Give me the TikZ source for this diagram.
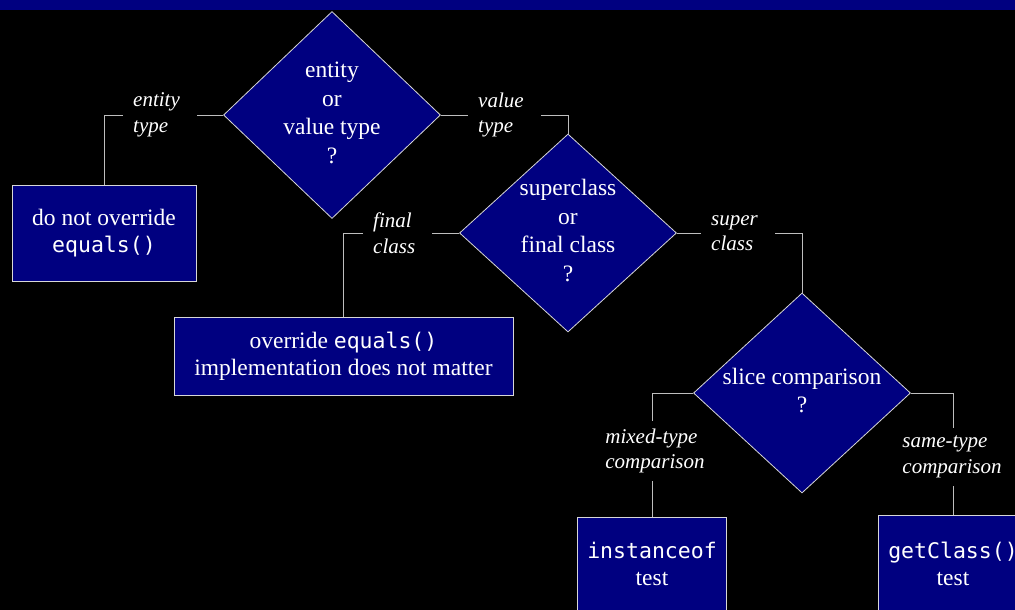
\documentclass[tikz,border=0pt]{standalone}
\usepackage{fontspec}
\setmainfont{Liberation Serif}
\setmonofont{DejaVu Sans Mono}
\usetikzlibrary{shapes.geometric,calc}
\definecolor{navy}{RGB}{0,0,128}
\definecolor{linegray}{RGB}{190,190,190}
\definecolor{edgegray}{RGB}{215,215,215}
\newcommand\mytab[1]{\begin{tabular}{@{}c@{}}#1\end{tabular}}
\newcommand\dtext[1]{\makebox[0pt]{\mytab{#1}}}
\newcommand\mainfs{\fontsize{23.5}{28.5}\selectfont}
\newcommand\boxfs{\fontsize{23.5}{27}\selectfont}
\newcommand\lblfs{\fontsize{21}{25.5}\selectfont\itshape}
\newcommand\code[1]{{\fontsize{21.5}{27}\selectfont\ttfamily #1}}
\begin{document}
\begin{tikzpicture}[x=1pt,y=-1pt,
  decision/.style={diamond, draw=edgegray, fill=navy, text=white, inner sep=0pt, line width=0.8pt, font=\mainfs},
  outcome/.style={rectangle, draw=edgegray, fill=navy, text=white, line width=0.8pt, font=\boxfs, align=center, inner sep=0pt},
  lbl/.style={text=white, font=\lblfs, align=left, inner xsep=10pt, inner ysep=8pt},
  conn/.style={draw=linegray, line width=0.8pt}]
\fill[black] (0,0) rectangle (1015,610);
\fill[navy] (0,0) rectangle (1015,10);
\useasboundingbox (0,0) rectangle (1015,610);

\node[decision, minimum width=217pt, minimum height=207pt] (d1) at (332,115) {\dtext{entity\\or\\value type\\?}};
\node[decision, minimum width=217pt, minimum height=198pt] (d2) at (568,233) {\dtext{superclass\\or\\final class\\?}};
\node[decision, minimum width=217pt, minimum height=200pt] (d3) at (802,393) {\dtext{slice comparison\\?}};

\node[outcome, minimum width=184pt, minimum height=96pt] (b1) at (104,233) {do not override\\\code{equals()}};
\node[outcome, minimum width=339pt, minimum height=78pt] (b2) at (343.5,356) {override \code{equals()}\\implementation does not matter};
\node[outcome, minimum width=149pt, minimum height=94pt] (b3) at (652,564) {\code{instanceof}\\test};
\node[outcome, minimum width=149pt, minimum height=98pt] (b4) at (953,564) {\code{getClass()}\\test};

\node[lbl, anchor=west] (lE) at (123,115) {entity\\type};
\node[lbl, anchor=west] (lV) at (468,115) {value\\type};
\node[lbl, anchor=west] (lF) at (363,233) {final\\class};
\node[lbl, anchor=west] (lS) at (701,233) {super\\class};
\node[lbl] (lM) at (655,451) {mixed-type\\comparison};
\node[lbl] (lR) at (952,457) {same-type\\comparison};

\draw[conn] (d1.west) -- ($(lE.east |- d1.west)+(7,0)$);
\draw[conn] (lE.west |- d1.west) -| (b1.north);
\draw[conn] (d1.east) -- (lV.west |- d1.east);
\draw[conn] ($(lV.east |- d1.east)+(7,0)$) -| (d2.north);
\draw[conn] (d2.west) -- ($(lF.east |- d2.west)+(7,0)$);
\draw[conn] (lF.west |- d2.west) -| (b2.north);
\draw[conn] (d2.east) -- (lS.west |- d2.east);
\draw[conn] ($(lS.east |- d2.east)+(7,0)$) -| (d3.north);
\draw[conn] (d3.west) -| (b3.north |- lM.north);
\draw[conn] (b3.north |- lM.south) -- (b3.north);
\draw[conn] (d3.east) -| (b4.north |- lR.north);
\draw[conn] (b4.north |- lR.south) -- (b4.north);
\end{tikzpicture}
\end{document}
